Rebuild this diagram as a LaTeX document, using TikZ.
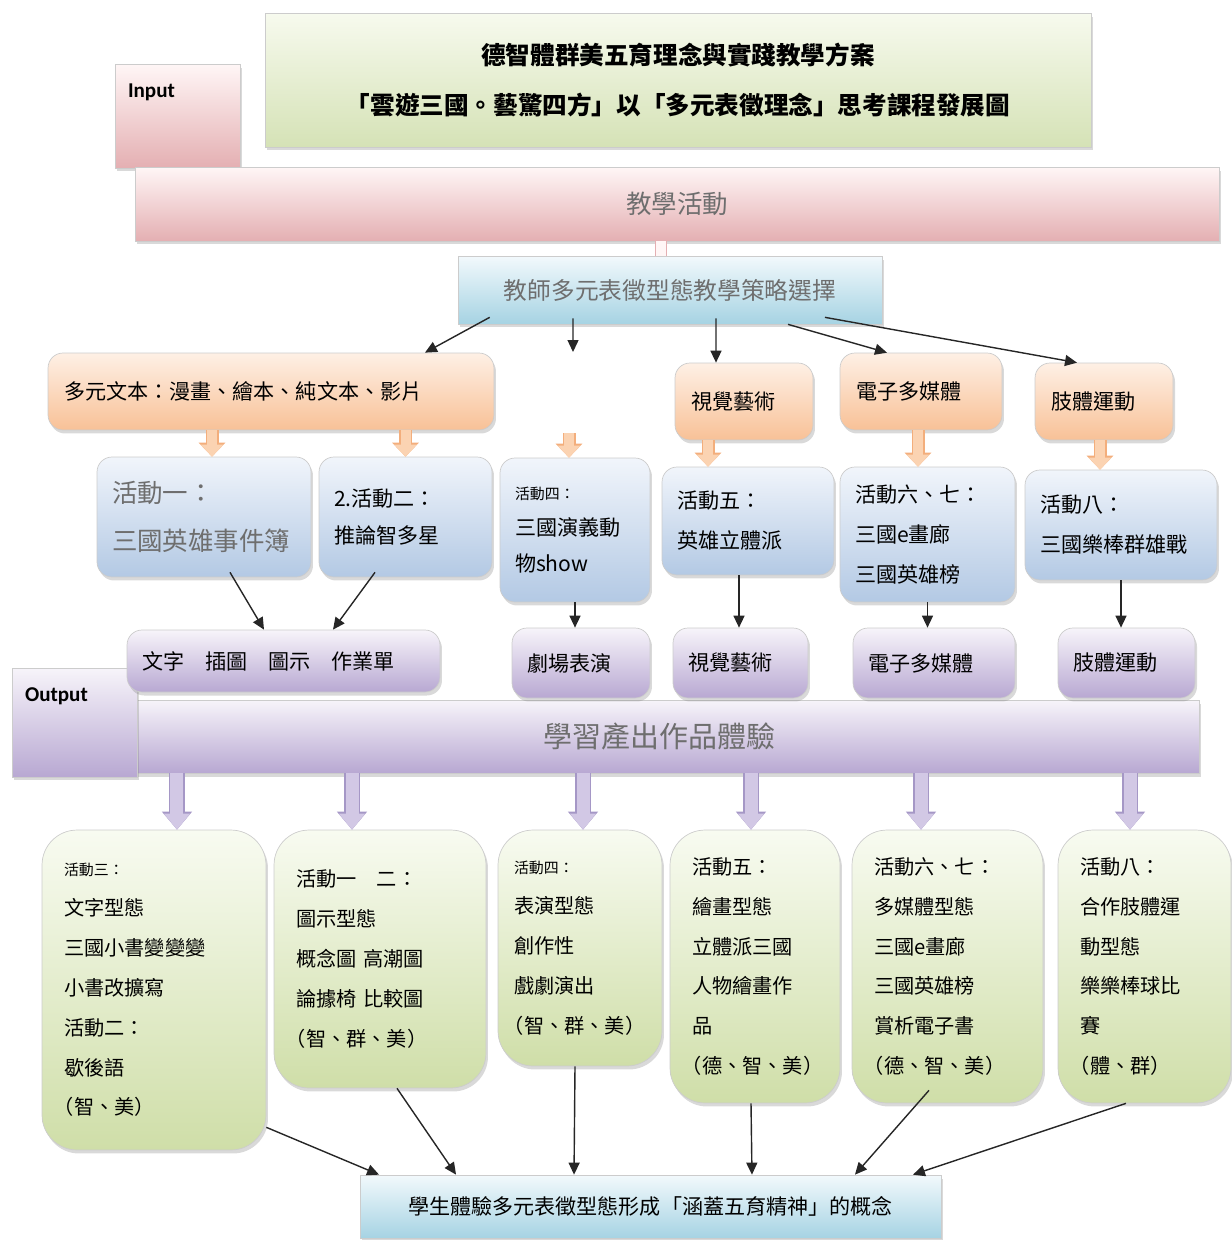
\documentclass[tikz,border=0pt]{standalone}
\usepackage{fontspec}
\setmainfont{Noto Sans CJK TC}
\newfontfamily\latfont{Carlito}
\usetikzlibrary{arrows.meta,shadows}

\definecolor{titleT}{HTML}{F7FAEE}
\definecolor{titleB}{HTML}{D5E2B6}
\definecolor{pinkT}{HTML}{FFF6F6}
\definecolor{pinkB}{HTML}{E4AFB2}
\definecolor{skyT}{HTML}{F2F9FC}
\definecolor{skyB}{HTML}{A6D3E3}
\definecolor{orT}{HTML}{FEF0E5}
\definecolor{orB}{HTML}{F8C197}
\definecolor{actT}{HTML}{F1F5FB}
\definecolor{actB}{HTML}{B3C9E4}
\definecolor{purT}{HTML}{F7F4FA}
\definecolor{purB}{HTML}{B8A8D2}
\definecolor{grT}{HTML}{F8FBF1}
\definecolor{grB}{HTML}{CFDEA8}
\definecolor{orArrF}{HTML}{FBD3B2}
\definecolor{orArrB}{HTML}{F3AE7C}
\definecolor{puArrF}{HTML}{D2C8E5}
\definecolor{puArrB}{HTML}{A597C6}
\definecolor{textgray}{HTML}{6E6E6E}

% 半形括號
\newcommand{\zhlp}{\makebox[0.5em][r]{（}}
\newcommand{\zhrp}{\makebox[0.5em][l]{）}}

\begin{document}
\begin{tikzpicture}[x=0.02cm, y=-0.02cm,
  boxbase/.style={draw=black!20, line width=0.4pt,
    drop shadow={opacity=0.3, shadow xshift=0.04cm, shadow yshift=-0.07cm}},
  titlebox/.style={boxbase, top color=titleT, bottom color=titleB, align=center,
    font=\fontsize{14}{28}\selectfont\bfseries},
  pinkbox/.style={boxbase, top color=pinkT, bottom color=pinkB},
  bluebox/.style={boxbase, top color=skyT, bottom color=skyB},
  orangebox/.style={boxbase, rounded corners=0.3cm, top color=orT, bottom color=orB,
    inner xsep=0.32cm, align=left, font=\fontsize{12}{22}\selectfont},
  actbox/.style={boxbase, rounded corners=0.3cm, top color=actT, bottom color=actB,
    inner xsep=0.3cm, align=left, font=\fontsize{12}{22.7}\selectfont},
  prodbox/.style={boxbase, rounded corners=0.3cm, top color=purT, bottom color=purB,
    inner xsep=0.3cm, align=left, font=\fontsize{12}{22}\selectfont},
  greenbox/.style={boxbase, rounded corners=0.7cm, top color=grT, bottom color=grB,
    inner xsep=0.44cm, align=left, font=\fontsize{11.5}{22.7}\selectfont},
  inlabel/.style={anchor=north west, inner sep=0pt, xshift=0.26cm, yshift=-0.4cm,
    font=\latfont\bfseries\fontsize{12}{14}\selectfont},
  arr/.style={-{Triangle[length=0.24cm,width=0.22cm]}, line width=0.8pt, black!85},
  orangearr/.style={draw=orArrF, line width=0.2cm, -{Triangle[length=0.24cm,width=0.44cm]},
    preaction={draw=orArrB, line width=0.26cm, -{Triangle[length=0.28cm,width=0.52cm]}}},
  purplearr/.style={draw=puArrF, line width=0.26cm, -{Triangle[length=0.32cm,width=0.5cm]},
    preaction={draw=puArrB, line width=0.32cm, -{Triangle[length=0.36cm,width=0.58cm]}}},
  pinklink/.style={draw=pinkB, double=pinkT, double distance=0.2cm, line width=0.5pt}
]
  \useasboundingbox (0,0) rectangle (1231,1240);

  % 標題與 Input
  \node[titlebox, minimum width=16.52cm, minimum height=2.68cm] (title) at (678,80)
    {德智體群美五育理念與實踐教學方案\\「雲遊三國。藝驚四方」以「多元表徵理念」思考課程發展圖};
  \node[pinkbox, minimum width=2.5cm, minimum height=2.08cm,
    label={[inlabel]north west:Input}] (input) at (177.5,116) {};
  \node[pinkbox, minimum width=21.68cm, minimum height=1.48cm, text=textgray,
    font=\fontsize{14.5}{18}\selectfont] (teach) at (677,204) {教學活動};
  \node[bluebox, minimum width=8.48cm, minimum height=1.36cm, text=textgray,
    font=\fontsize{13.5}{18}\selectfont] (strat) at (670,290) {教師多元表徵型態教學策略選擇};
  \draw[pinklink] ([xshift=-0.18cm]strat.north) -- ([xshift=-0.18cm]strat.north |- teach.south);

  % 媒材
  \node[orangebox, text width=8.28cm, minimum height=1.54cm] (multi) at (271,391.5)
    {多元文本：漫畫、繪本、純文本、影片};
  \node[orangebox, text width=2.12cm, minimum height=1.54cm] (visual) at (744,401.5) {視覺藝術};
  \node[orangebox, text width=2.6cm, minimum height=1.54cm] (media) at (921,391.5) {電子多媒體};
  \node[orangebox, text width=2.12cm, minimum height=1.54cm] (body) at (1104,401.5) {肢體運動};
  \coordinate (gapA) at (573,352);
  \coordinate (gapB) at (569,433);

  \draw[arr] ([xshift=0.64cm,yshift=0.14cm]strat.south west) -- ([xshift=3.08cm]multi.north);
  \draw[arr] ([xshift=-1.94cm,yshift=0.12cm]strat.south) -- (gapA);
  \draw[arr] ([xshift=0.92cm,yshift=0.12cm]strat.south) -- ([xshift=-0.56cm]visual.north);
  \draw[arr] ([xshift=2.36cm]strat.south) -- ([xshift=-0.68cm]media.north);
  \draw[arr] ([xshift=3.1cm,yshift=0.14cm]strat.south) -- ([xshift=-0.54cm]body.north);

  % 活動
  \node[actbox, text width=3.68cm, minimum height=2.4cm, text=textgray,
    font=\fontsize{14.5}{27}\selectfont] (act1) at (204,517) {活動一：\\三國英雄事件簿};
  \node[actbox, text width=2.86cm, minimum height=2.4cm,
    font=\fontsize{12}{21.5}\selectfont] (act2) at (405.5,517) {2.活動二：\\推論智多星};
  \node[actbox, text width=2.4cm, minimum height=2.88cm,
    font=\fontsize{12}{20.5}\selectfont] (act4) at (575,530)
    {{\fontsize{8.5}{10}\selectfont 活動四：}\\三國演義動\\物show};
  \node[actbox, text width=2.84cm, minimum height=2.16cm] (act5) at (748,521) {活動五：\\英雄立體派};
  \node[actbox, text width=2.9cm, minimum height=2.7cm] (act67) at (927.5,534.5)
    {活動六、七：\\三國e畫廊\\三國英雄榜};
  \node[actbox, text width=3.24cm, minimum height=2.2cm] (act8) at (1121,525) {活動八：\\三國樂棒群雄戰};

  \foreach \a/\b/\dx in {multi/act1/0.16, multi/act2/0, visual/act5/-0.8,
                         media/act67/-0.19, body/act8/-0.42}
    \draw[orangearr] ([xshift=\dx cm]\b.north |- \a.south) -- ([xshift=\dx cm]\b.north);
  \draw[orangearr] (gapB) -- (gapB |- act4.north);

  % 產出
  \node[pinkbox, top color=purT, bottom color=purB, minimum width=21.58cm, minimum height=1.46cm,
    text=textgray, font=\fontsize{16.5}{20}\selectfont] (outbar) at (659.5,736.5) {學習產出作品體驗};
  \node[pinkbox, top color=purT, bottom color=purB, minimum width=2.5cm, minimum height=2.18cm,
    label={[inlabel]north west:Output}] (output) at (74.5,722.5) {};

  \node[prodbox, text width=5.66cm, minimum height=1.24cm] (words) at (283.5,661)
    {文字\quad 插圖\quad 圖示\quad 作業單};
  \node[prodbox, text width=2.16cm, minimum height=1.4cm] (drama) at (581,663) {劇場表演};
  \node[prodbox, text width=2.1cm, minimum height=1.4cm] (visual2) at (740.5,663) {視覺藝術};
  \node[prodbox, text width=2.64cm, minimum height=1.4cm] (media2) at (934,663) {電子多媒體};
  \node[prodbox, text width=2.14cm, minimum height=1.4cm] (body2) at (1126.5,663) {肢體運動};

  \draw[arr] ([xshift=0.52cm,yshift=0.1cm]act1.south) -- ([xshift=-0.39cm]words.north);
  \draw[arr] ([xshift=-0.61cm,yshift=0.1cm]act2.south) -- ([xshift=0.99cm]words.north);
  \draw[arr] (act4.south) -- (act4.south |- drama.north);
  \draw[arr] ([xshift=-0.18cm]act5.south) -- ([xshift=-0.18cm]act5.south |- visual2.north);
  \draw[arr] (act67.south) -- (act67.south |- media2.north);
  \draw[arr] (act8.south) -- (act8.south |- body2.north);

  % 表徵型態
  \node[greenbox, text width=3.6cm, minimum height=6.4cm] (g1) at (154,990)
    {{\fontsize{8.5}{10}\selectfont 活動三：}\\文字型態\\三國小書變變變\\小書改擴寫\\活動二：\\歇後語\\\zhlp 智、美\zhrp};
  \node[greenbox, text width=3.36cm, minimum height=5.16cm] (g2) at (380,959)
    {活動一\quad 二：\\圖示型態\\概念圖 高潮圖\\論據椅 比較圖\\\zhlp 智、群、美\zhrp};
  \node[greenbox, inner xsep=0.32cm, text width=2.64cm, minimum height=4.72cm] (g3) at (580,948)
    {{\fontsize{8.5}{10}\selectfont 活動四：}\\表演型態\\創作性\\戲劇演出\\\zhlp 智、群、美\zhrp};
  \node[greenbox, text width=2.52cm, minimum height=5.46cm] (g4) at (755,966.5)
    {活動五：\\繪畫型態\\立體派三國\\人物繪畫作\\品\\\zhlp 德、智、美\zhrp};
  \node[greenbox, text width=2.94cm, minimum height=5.46cm] (g5) at (947.5,966.5)
    {活動六、七：\\多媒體型態\\三國e畫廊\\三國英雄榜\\賞析電子書\\\zhlp 德、智、美\zhrp};
  \node[greenbox, text width=2.58cm, minimum height=5.46cm] (g6) at (1144.5,966.5)
    {活動八：\\合作肢體運\\動型態\\樂樂棒球比\\賽\\\zhlp 體、群\zhrp};

  \foreach \b/\dx in {g1/0.46, g2/-0.56, g3/0.06, g4/-0.08, g5/-0.53, g6/-0.29}
    \draw[purplearr] ([xshift=\dx cm]\b.north |- outbar.south) -- ([xshift=\dx cm]\b.north);

  % 五育概念
  \node[bluebox, minimum width=11.62cm, minimum height=1.26cm,
    font=\fontsize{12}{16}\selectfont] (concept) at (650.5,1206.5)
    {學生體驗多元表徵型態形成「涵蓋五育精神」的概念};

  \draw[arr] ([yshift=0.46cm]g1.south east) -- ([xshift=-5.43cm]concept.north);
  \draw[arr] ([xshift=0.34cm]g2.south) -- ([xshift=-3.89cm]concept.north);
  \draw[arr] ([xshift=-0.1cm]g3.south) -- ([xshift=-1.53cm]concept.north);
  \draw[arr] ([xshift=-0.08cm]g4.south) -- ([xshift=2.03cm]concept.north);
  \draw[arr] ([xshift=-0.37cm,yshift=0.26cm]g5.south) -- ([xshift=4.09cm]concept.north);
  \draw[arr] ([xshift=-0.37cm]g6.south) -- ([xshift=5.25cm]concept.north);
\end{tikzpicture}
\end{document}
